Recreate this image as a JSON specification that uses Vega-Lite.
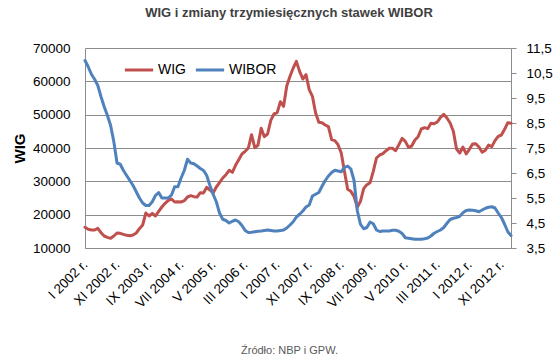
{
  "$schema": "https://vega.github.io/schema/vega-lite/v6.json",
  "width": 426,
  "height": 200,
  "autosize": {"type": "none"},
  "padding": {"left": 85, "top": 48, "right": 48, "bottom": 110},
  "background": "white",
  "title": {
    "text": "WIG i zmiany trzymiesięcznych stawek WIBOR",
    "font": "Liberation Sans",
    "fontSize": 13,
    "fontWeight": "bold",
    "color": "#404040",
    "anchor": "middle",
    "dx": -9,
    "offset": 21
  },
  "config": {
    "view": {"stroke": null},
    "axis": {"labelFont": "Liberation Sans", "labelFontSize": 13.5, "labelColor": "#000000"}
  },
  "data": {
    "values": [
      {"month": "2002-01", "WIG": 16200, "WIBOR": 11.0},
      {"month": "2002-02", "WIG": 15600, "WIBOR": 10.75},
      {"month": "2002-03", "WIG": 15400, "WIBOR": 10.45},
      {"month": "2002-04", "WIG": 15400, "WIBOR": 10.25},
      {"month": "2002-05", "WIG": 15900, "WIBOR": 10.0},
      {"month": "2002-06", "WIG": 14600, "WIBOR": 9.55},
      {"month": "2002-07", "WIG": 13600, "WIBOR": 9.15},
      {"month": "2002-08", "WIG": 13200, "WIBOR": 8.8},
      {"month": "2002-09", "WIG": 12900, "WIBOR": 8.4},
      {"month": "2002-10", "WIG": 13600, "WIBOR": 7.75},
      {"month": "2002-11", "WIG": 14500, "WIBOR": 6.9},
      {"month": "2002-12", "WIG": 14400, "WIBOR": 6.85},
      {"month": "2003-01", "WIG": 14100, "WIBOR": 6.6},
      {"month": "2003-02", "WIG": 13800, "WIBOR": 6.4},
      {"month": "2003-03", "WIG": 13700, "WIBOR": 6.2},
      {"month": "2003-04", "WIG": 13900, "WIBOR": 6.0},
      {"month": "2003-05", "WIG": 14500, "WIBOR": 5.75},
      {"month": "2003-06", "WIG": 15800, "WIBOR": 5.5},
      {"month": "2003-07", "WIG": 16900, "WIBOR": 5.3},
      {"month": "2003-08", "WIG": 20500, "WIBOR": 5.2},
      {"month": "2003-09", "WIG": 19600, "WIBOR": 5.2},
      {"month": "2003-10", "WIG": 20400, "WIBOR": 5.35},
      {"month": "2003-11", "WIG": 19600, "WIBOR": 5.6},
      {"month": "2003-12", "WIG": 21000, "WIBOR": 5.72},
      {"month": "2004-01", "WIG": 22300, "WIBOR": 5.5},
      {"month": "2004-02", "WIG": 23400, "WIBOR": 5.5},
      {"month": "2004-03", "WIG": 24300, "WIBOR": 5.5},
      {"month": "2004-04", "WIG": 24700, "WIBOR": 5.62},
      {"month": "2004-05", "WIG": 23800, "WIBOR": 5.95},
      {"month": "2004-06", "WIG": 23900, "WIBOR": 5.95},
      {"month": "2004-07", "WIG": 23800, "WIBOR": 6.3},
      {"month": "2004-08", "WIG": 24200, "WIBOR": 6.6},
      {"month": "2004-09", "WIG": 25300, "WIBOR": 7.05},
      {"month": "2004-10", "WIG": 25700, "WIBOR": 6.9},
      {"month": "2004-11", "WIG": 25400, "WIBOR": 6.87},
      {"month": "2004-12", "WIG": 25300, "WIBOR": 6.78},
      {"month": "2005-01", "WIG": 26600, "WIBOR": 6.68},
      {"month": "2005-02", "WIG": 26500, "WIBOR": 6.6},
      {"month": "2005-03", "WIG": 28200, "WIBOR": 6.4},
      {"month": "2005-04", "WIG": 27400, "WIBOR": 6.0},
      {"month": "2005-05", "WIG": 26500, "WIBOR": 5.65},
      {"month": "2005-06", "WIG": 28300, "WIBOR": 5.35},
      {"month": "2005-07", "WIG": 29600, "WIBOR": 4.9},
      {"month": "2005-08", "WIG": 31000, "WIBOR": 4.65},
      {"month": "2005-09", "WIG": 32000, "WIBOR": 4.6},
      {"month": "2005-10", "WIG": 33300, "WIBOR": 4.5},
      {"month": "2005-11", "WIG": 32700, "WIBOR": 4.57},
      {"month": "2005-12", "WIG": 34800, "WIBOR": 4.62},
      {"month": "2006-01", "WIG": 36500, "WIBOR": 4.55},
      {"month": "2006-02", "WIG": 38200, "WIBOR": 4.4},
      {"month": "2006-03", "WIG": 39000, "WIBOR": 4.2},
      {"month": "2006-04", "WIG": 40000, "WIBOR": 4.12},
      {"month": "2006-05", "WIG": 44000, "WIBOR": 4.13},
      {"month": "2006-06", "WIG": 40100, "WIBOR": 4.15},
      {"month": "2006-07", "WIG": 40800, "WIBOR": 4.17},
      {"month": "2006-08", "WIG": 45900, "WIBOR": 4.18},
      {"month": "2006-09", "WIG": 43400, "WIBOR": 4.2},
      {"month": "2006-10", "WIG": 44200, "WIBOR": 4.22},
      {"month": "2006-11", "WIG": 48300, "WIBOR": 4.2},
      {"month": "2006-12", "WIG": 50200, "WIBOR": 4.18},
      {"month": "2007-01", "WIG": 50600, "WIBOR": 4.18},
      {"month": "2007-02", "WIG": 53900, "WIBOR": 4.2},
      {"month": "2007-03", "WIG": 52500, "WIBOR": 4.22},
      {"month": "2007-04", "WIG": 58700, "WIBOR": 4.3},
      {"month": "2007-05", "WIG": 61500, "WIBOR": 4.42},
      {"month": "2007-06", "WIG": 64000, "WIBOR": 4.55},
      {"month": "2007-07", "WIG": 66000, "WIBOR": 4.74},
      {"month": "2007-08", "WIG": 63000, "WIBOR": 4.85},
      {"month": "2007-09", "WIG": 60700, "WIBOR": 4.98},
      {"month": "2007-10", "WIG": 62000, "WIBOR": 5.14},
      {"month": "2007-11", "WIG": 57500, "WIBOR": 5.22},
      {"month": "2007-12", "WIG": 55500, "WIBOR": 5.58},
      {"month": "2008-01", "WIG": 50500, "WIBOR": 5.65},
      {"month": "2008-02", "WIG": 47700, "WIBOR": 5.72},
      {"month": "2008-03", "WIG": 47600, "WIBOR": 5.97},
      {"month": "2008-04", "WIG": 46900, "WIBOR": 6.2},
      {"month": "2008-05", "WIG": 46400, "WIBOR": 6.38},
      {"month": "2008-06", "WIG": 42500, "WIBOR": 6.52},
      {"month": "2008-07", "WIG": 42200, "WIBOR": 6.61},
      {"month": "2008-08", "WIG": 41000, "WIBOR": 6.58},
      {"month": "2008-09", "WIG": 38500, "WIBOR": 6.55},
      {"month": "2008-10", "WIG": 33000, "WIBOR": 6.72},
      {"month": "2008-11", "WIG": 27600, "WIBOR": 6.78},
      {"month": "2008-12", "WIG": 27000, "WIBOR": 6.66},
      {"month": "2009-01", "WIG": 25500, "WIBOR": 6.2},
      {"month": "2009-02", "WIG": 22200, "WIBOR": 5.0},
      {"month": "2009-03", "WIG": 24000, "WIBOR": 4.45},
      {"month": "2009-04", "WIG": 27800, "WIBOR": 4.27},
      {"month": "2009-05", "WIG": 29000, "WIBOR": 4.32},
      {"month": "2009-06", "WIG": 29600, "WIBOR": 4.54},
      {"month": "2009-07", "WIG": 33000, "WIBOR": 4.47},
      {"month": "2009-08", "WIG": 37000, "WIBOR": 4.22},
      {"month": "2009-09", "WIG": 37900, "WIBOR": 4.16},
      {"month": "2009-10", "WIG": 38300, "WIBOR": 4.18},
      {"month": "2009-11", "WIG": 39200, "WIBOR": 4.18},
      {"month": "2009-12", "WIG": 39900, "WIBOR": 4.18},
      {"month": "2010-01", "WIG": 39900, "WIBOR": 4.21},
      {"month": "2010-02", "WIG": 39200, "WIBOR": 4.21},
      {"month": "2010-03", "WIG": 41000, "WIBOR": 4.17},
      {"month": "2010-04", "WIG": 42900, "WIBOR": 4.08},
      {"month": "2010-05", "WIG": 42000, "WIBOR": 3.91},
      {"month": "2010-06", "WIG": 40200, "WIBOR": 3.89},
      {"month": "2010-07", "WIG": 40600, "WIBOR": 3.87},
      {"month": "2010-08", "WIG": 42400, "WIBOR": 3.85},
      {"month": "2010-09", "WIG": 43400, "WIBOR": 3.85},
      {"month": "2010-10", "WIG": 45700, "WIBOR": 3.85},
      {"month": "2010-11", "WIG": 46100, "WIBOR": 3.87},
      {"month": "2010-12", "WIG": 45800, "WIBOR": 3.9},
      {"month": "2011-01", "WIG": 47400, "WIBOR": 3.98},
      {"month": "2011-02", "WIG": 47300, "WIBOR": 4.09},
      {"month": "2011-03", "WIG": 47800, "WIBOR": 4.16},
      {"month": "2011-04", "WIG": 49200, "WIBOR": 4.22},
      {"month": "2011-05", "WIG": 50100, "WIBOR": 4.32},
      {"month": "2011-06", "WIG": 49000, "WIBOR": 4.49},
      {"month": "2011-07", "WIG": 47500, "WIBOR": 4.64},
      {"month": "2011-08", "WIG": 45000, "WIBOR": 4.69},
      {"month": "2011-09", "WIG": 39700, "WIBOR": 4.72},
      {"month": "2011-10", "WIG": 38500, "WIBOR": 4.77},
      {"month": "2011-11", "WIG": 40300, "WIBOR": 4.91},
      {"month": "2011-12", "WIG": 38200, "WIBOR": 5.0},
      {"month": "2012-01", "WIG": 39600, "WIBOR": 5.02},
      {"month": "2012-02", "WIG": 41200, "WIBOR": 5.01},
      {"month": "2012-03", "WIG": 41300, "WIBOR": 4.99},
      {"month": "2012-04", "WIG": 40300, "WIBOR": 4.95},
      {"month": "2012-05", "WIG": 38700, "WIBOR": 5.02},
      {"month": "2012-06", "WIG": 39300, "WIBOR": 5.09},
      {"month": "2012-07", "WIG": 40900, "WIBOR": 5.13},
      {"month": "2012-08", "WIG": 40400, "WIBOR": 5.15},
      {"month": "2012-09", "WIG": 42200, "WIBOR": 5.1},
      {"month": "2012-10", "WIG": 43500, "WIBOR": 4.9},
      {"month": "2012-11", "WIG": 43900, "WIBOR": 4.72},
      {"month": "2012-12", "WIG": 45600, "WIBOR": 4.45},
      {"month": "2013-01", "WIG": 47600, "WIBOR": 4.15},
      {"month": "2013-02", "WIG": 47400, "WIBOR": 4.0}
    ]
  },
  "layer": [
    {
      "mark": {"type": "line", "strokeWidth": 3, "strokeJoin": "round", "strokeCap": "round"},
      "encoding": {
        "x": {
          "field": "month",
          "type": "ordinal",
          "scale": {"type": "point", "padding": 0},
          "axis": {
            "values": ["2002-01", "2002-11", "2003-09", "2004-07", "2005-05", "2006-03", "2007-01", "2007-11", "2008-09", "2009-07", "2010-05", "2011-03", "2012-01", "2012-11"],
            "labelExpr": "['I','II','III','IV','V','VI','VII','VIII','IX','X','XI','XII'][toNumber(substring(datum.value,5,7))-1] + ' ' + substring(datum.value,0,4) + ' r.'",
            "labelAngle": -45,
            "labelAlign": "right",
            "labelBaseline": "middle",
            "labelPadding": 14,
            "labelOverlap": false,
            "ticks": false,
            "grid": false,
            "domainColor": "#8c8c8c",
            "title": "Źródło: NBP i GPW.",
            "titleFont": "Liberation Sans",
            "titleFontSize": 11,
            "titleFontWeight": "normal",
            "titleColor": "#595959",
            "titleX": 204,
            "titleY": 102,
            "titleAlign": "center",
            "titleBaseline": "middle"
          }
        },
        "y": {
          "field": "WIG",
          "type": "quantitative",
          "scale": {"domain": [10000, 70000], "nice": false},
          "axis": {
            "values": [10000, 20000, 30000, 40000, 50000, 60000, 70000],
            "format": "d",
            "grid": true,
            "gridColor": "#8c8c8c",
            "ticks": false,
            "domainColor": "#8c8c8c",
            "labelPadding": 15,
            "title": "WIG",
            "titleFont": "Liberation Sans",
            "titleFontSize": 15,
            "titleFontWeight": "bold",
            "titleColor": "#000000",
            "titlePadding": 5
          }
        },
        "color": {
          "datum": "WIG",
          "scale": {"domain": ["WIG", "WIBOR"], "range": ["#C0504D", "#4F81BD"]},
          "legend": {
            "orient": "none",
            "legendX": 38,
            "legendY": 6,
            "direction": "horizontal",
            "gridAlign": "none",
            "title": null,
            "symbolType": "stroke",
            "symbolStrokeWidth": 3,
            "symbolSize": 800,
            "labelFont": "Liberation Sans",
            "labelFontSize": 14,
            "labelColor": "#000000",
            "labelOffset": 3,
            "columnPadding": 3
          }
        }
      }
    },
    {
      "mark": {"type": "line", "strokeWidth": 3, "strokeJoin": "round", "strokeCap": "round"},
      "encoding": {
        "x": {"field": "month", "type": "ordinal"},
        "y": {
          "field": "WIBOR",
          "type": "quantitative",
          "scale": {"domain": [3.5, 11.5], "nice": false},
          "axis": {
            "orient": "right",
            "values": [3.5, 4.5, 5.5, 6.5, 7.5, 8.5, 9.5, 10.5, 11.5],
            "labelExpr": "replace(format(datum.value,'.1f'),'.',',')",
            "grid": false,
            "tickSize": 5,
            "tickColor": "#8c8c8c",
            "domainColor": "#8c8c8c",
            "labelPadding": 10,
            "title": null
          }
        },
        "color": {"datum": "WIBOR"}
      }
    }
  ],
  "resolve": {"scale": {"y": "independent"}}
}
